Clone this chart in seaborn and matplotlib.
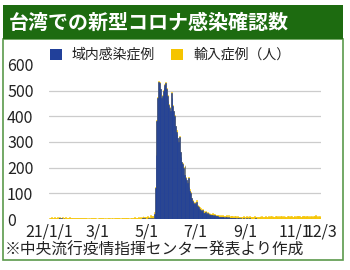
import numpy as np
import pandas as pd
import matplotlib
matplotlib.use("Agg")
import matplotlib.pyplot as plt
import seaborn as sns
from matplotlib.patches import Rectangle

# ---------------- data ----------------
title = "台湾での新型コロナ感染確認数"
label_dom = "域内感染症例"
label_imp = "輸入症例（人）"
footnote = "※中央流行疫情指揮センター発表より作成"

jan_dom = [0,0,0,0,0,0,0,0,0,0,0,1,2,3,1,2,0,1,2,0,1,0,0,0,0,1,0,0,0,0,0]
feb_dom = [0,0,0,0,0,0,0,0,0,0,1,0,0,0,0,0,0,0,0,0,0,0,0,0,0,0,0,0]
mar_dom = [0,0,0,0,0,0,0,0,0,0,0,0,0,0,0,0,0,0,0,0,0,0,0,0,0,0,0,0,0,0,0]
apr_dom = [0,0,0,0,0,0,0,0,0,0,0,0,0,0,0,0,0,0,0,0,0,0,0,1,0,2,3,1,2,1]
may_dom = [1,0,0,2,0,3,1,0,2,0,20,120,250,380,470,535,530,490,505,470,480,
           500,510,520,530,505,480,460,445,430,420]
jun_dom = [490,470,440,420,400,360,340,330,315,300,320,260,240,220,215,200,170,
           205,160,150,140,160,125,110,100,80,70,65,60,62]
jul_dom = [58,68,50,42,45,40,36,32,29,34,25,24,28,21,20,23,18,17,19,15,15,17,
           13,13,14,11,10,12,9,9,8]
aug_dom = [8,7,9,6,7,5,6,8,5,4,6,3,5,4,3,4,2,3,2,4,1,3,2,2,1,2,1,1,2,0,1]
sep_dom = [1,2,0,3,1,2,0,1,0,0,1,0,2,1,0,0,1,0,0,0,1,0,0,1,0,0,0,1,0,0]
oct_dom = [0,0,1,0,0,0,0,0,1,0,0,0,0,0,0,1,0,0,0,0,0,0,0,0,1,0,0,0,0,0,0]
nov_dom = [0,0,0,1,0,0,0,0,0,0,0,0,1,0,0,0,0,0,0,0,0,0,0,0,0,0,1,0,0,0]
dec_dom = [0,0,0]

jan_imp = [4,3,5,6,2,4,7,3,5,4,6,3,2,5,4,3,6,4,2,3,5,4,3,2,4,5,3,2,4,3,2]
feb_imp = [2,3,1,2,4,3,2,1,3,2,1,2,3,1,2,2,1,3,2,1,2,3,2,1,2,3,2,1]
mar_imp = [2,1,3,2,4,1,2,3,2,1,3,2,1,2,4,3,2,1,2,3,1,2,3,2,4,2,1,3,2,1,2]
apr_imp = [3,2,4,3,2,5,3,2,4,1,3,5,2,4,3,6,2,4,3,5,7,4,3,6,5,4,8,6,5,7]
may_imp = [8,6,10,7,5,12,9,6,8,11,7,5,9,6,4,3,5,4,2,3,4,2,3,5,2,4,3,2,3,4,2]
jun_imp = [3,2,4,1,3,2,5,3,2,4,3,2,1,3,4,2,3,5,2,3,4,2,3,6,4,3,5,2,4,3]
jul_imp = [4,5,3,6,4,5,7,3,4,6,5,3,4,7,5,6,4,3,5,6,4,7,5,3,6,4,5,3,4,6,5]
aug_imp = [6,5,7,4,6,8,5,7,6,4,8,6,5,7,9,6,5,8,7,6,5,9,7,6,8,5,7,6,9,7,8]
sep_imp = [7,8,6,9,7,10,8,6,9,7,8,10,6,7,9,8,7,6,10,8,9,7,8,6,9,11,7,8,10,9]
oct_imp = [8,10,9,7,11,8,9,12,10,8,9,11,7,10,8,12,9,10,8,11,9,7,10,12,8,9,11,10,8,9,12]
nov_imp = [10,8,12,9,11,10,13,8,9,11,10,12,9,8,11,13,10,9,12,8,10,11,9,12,10,8,13,11,9,10]
dec_imp = [11,9,12]

tick_dates = ["2021-01-01", "2021-03-01", "2021-05-01", "2021-07-01",
              "2021-09-01", "2021-11-01", "2021-12-03"]
tick_labels = ["21/1/1", "3/1", "5/1", "7/1", "9/1", "11/1", "12/3"]
y_ticks = [0, 100, 200, 300, 400, 500, 600]

# ---------------- build table ----------------
dom = np.array(jan_dom + feb_dom + mar_dom + apr_dom + may_dom + jun_dom +
               jul_dom + aug_dom + sep_dom + oct_dom + nov_dom + dec_dom)
imp = np.array(jan_imp + feb_imp + mar_imp + apr_imp + may_imp + jun_imp +
               jul_imp + aug_imp + sep_imp + oct_imp + nov_imp + dec_imp)
n = len(dom)
df = pd.DataFrame({"day": np.arange(n), "dom": dom, "total": dom + imp})
start = pd.Timestamp("2021-01-01")
tick_pos = [(pd.Timestamp(d) - start).days for d in tick_dates]

# ---------------- styling ----------------
sns.set_theme(style="white")
plt.rcParams["font.family"] = ["Noto Sans CJK JP", "DejaVu Sans"]

W, H = 350, 270
fig = plt.figure(figsize=(W / 100, H / 100), dpi=100)
fig.patch.set_facecolor("white")


def fx(x):
    return x / W


def fy(y):
    return 1 - y / H


green_dark = "#1d6b10"
green_border = "#5b9a4c"
blue = "#21409a"
yellow = "#f5c400"
txt = "#222222"

fig.patches.append(Rectangle((fx(3), fy(260)), fx(343) - fx(3), fy(39) - fy(260),
                             transform=fig.transFigure, facecolor="white",
                             edgecolor=green_border, lw=1.2, zorder=0))
fig.patches.append(Rectangle((fx(3), fy(39)), fx(343) - fx(3), fy(5) - fy(39),
                             transform=fig.transFigure, facecolor=green_dark,
                             edgecolor="none", zorder=1))
fig.text(fx(9), fy(22), title, color="white", fontsize=14.4,
         fontweight="bold", va="center", ha="left", zorder=3)

ax = fig.add_axes([fx(49), fy(219), fx(321) - fx(49), fy(64.8) - fy(219)])
ax.set_zorder(2)
ax.patch.set_alpha(0)

sns.barplot(data=df, x="day", y="total", native_scale=True, color=yellow,
            saturation=1, width=1, errorbar=None, linewidth=0.4,
            edgecolor=yellow, ax=ax)
sns.barplot(data=df, x="day", y="dom", native_scale=True, color=blue,
            saturation=1, width=1, errorbar=None, linewidth=0.4,
            edgecolor=blue, ax=ax)

ax.set_xlim(-0.5, n - 0.5)
ax.set_ylim(0, 600)
ax.set_yticks(y_ticks)
ax.set_yticklabels([str(v) for v in y_ticks])
ax.set_xticks(tick_pos)
ax.set_xticklabels(tick_labels)
ax.set_xlabel("")
ax.set_ylabel("")
for s in ax.spines.values():
    s.set_visible(False)
ax.set_axisbelow(True)
ax.yaxis.grid(True, color="#cccccc", lw=0.9)
ax.xaxis.grid(False)
ax.get_ygridlines()[-1].set_visible(False)

ax.tick_params(axis="both", length=0, labelsize=11.5, colors=txt)
ax.tick_params(axis="y", pad=30.2)
ax.tick_params(axis="x", pad=3.5)
for lab in ax.get_yticklabels():
    lab.set_ha("left")

handles = [Rectangle((0, 0), 1, 1, facecolor=blue, edgecolor="none"),
           Rectangle((0, 0), 1, 1, facecolor=yellow, edgecolor="none")]
ax.legend(handles, [label_dom, label_imp], loc="center left",
          bbox_to_anchor=(fx(50), fy(55)), bbox_transform=fig.transFigure,
          ncol=2, frameon=False, fontsize=10, handlelength=0.86,
          handleheight=0.86, handletextpad=0.72, columnspacing=1.15,
          borderpad=0, borderaxespad=0, labelcolor=txt)

fig.text(fx(5), fy(250), footnote, fontsize=11.3, color=txt,
         va="center", ha="left", zorder=3)

fig.savefig("out.png", dpi=100)
